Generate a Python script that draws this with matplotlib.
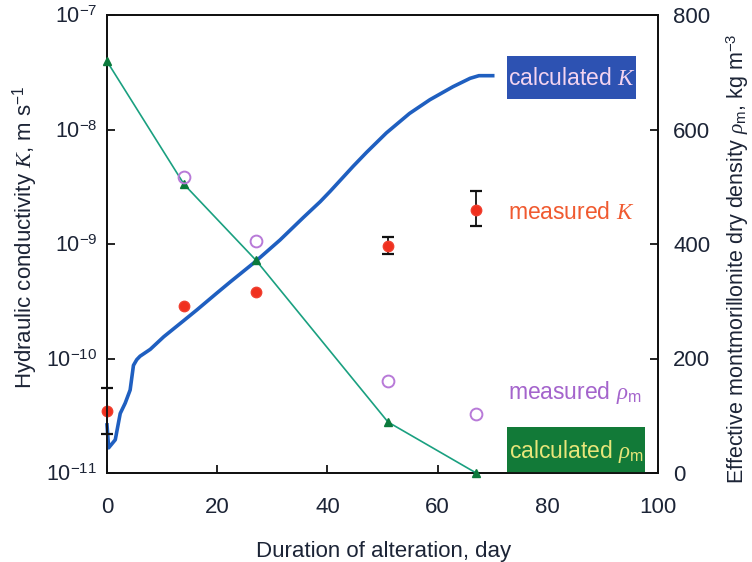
import matplotlib
matplotlib.use("Agg")
import matplotlib.pyplot as plt
from matplotlib.patches import Rectangle
import numpy as np

plt.rcParams['font.family'] = ['Liberation Sans', 'DejaVu Sans']
plt.rcParams['mathtext.fontset'] = 'custom'
plt.rcParams['mathtext.rm'] = 'Liberation Sans'
plt.rcParams['mathtext.it'] = 'Liberation Serif:italic'
plt.rcParams['mathtext.sf'] = 'Liberation Sans'

# ---- data ----
calc_K_days = [0, 0.3, 1.5, 2.4, 3.3, 4.2, 4.8, 5.4, 6.0, 7.85, 10.3, 13.9, 16.3, 19.9,
               22.4, 26.9, 31.4, 35.6, 38.7, 40.5, 44.7, 47.1, 50.7, 54.9, 58.6, 62.8,
               65.9, 67.5, 70.0]
calc_K_log10 = [-10.58, -10.78, -10.71, -10.48, -10.39, -10.275, -10.06, -10.01, -9.98,
                -9.92, -9.81, -9.67, -9.576, -9.43, -9.33, -9.155, -8.965, -8.77, -8.63,
                -8.54, -8.32, -8.20, -8.03, -7.86, -7.74, -7.626, -7.553, -7.53, -7.53]

meas_K_days = [0, 14, 27, 51, 67]
meas_K = [3.5e-11, 2.9e-10, 3.8e-10, 9.6e-10, 2.0e-9]

err_days = [0, 51, 67]
err_center = [3.5e-11, 9.6e-10, 2.0e-9]
err_upper = [5.5e-11, 1.15e-9, 2.9e-9]
err_lower = [2.2e-11, 8.1e-10, 1.44e-9]

meas_rho_days = [14, 27, 51, 67]
meas_rho = [517, 405, 161, 103]

calc_rho_days = [0, 14, 27, 51, 67]
calc_rho = [719, 504, 372, 89, 0]

x_ticks = [0, 20, 40, 60, 80, 100]
K_ticks = [1e-11, 1e-10, 1e-9, 1e-8, 1e-7]
K_tick_labels = ['10$^{-11}$', '10$^{-10}$', '10$^{-9}$', '10$^{-8}$', '10$^{-7}$']
rho_ticks = [0, 200, 400, 600, 800]

txt = '#1c2436'

fig = plt.figure(figsize=(7.52, 5.62), dpi=100)
ax = fig.add_axes([107/752, 1-473/562, (658-107)/752, (473-15)/562])
ax2 = ax.twinx()

ax.set_yscale('log')
ax.set_xlim(0, 100)
ax.set_ylim(1e-11, 1e-7)
ax2.set_ylim(0, 800)

# calculated K
ax.plot(calc_K_days, [10**v for v in calc_K_log10], color='#1f5fc0', lw=2.6,
        zorder=4, clip_on=False, solid_joinstyle='round')
# measured K with error bars
ax.errorbar(err_days, err_center,
            yerr=[np.array(err_center) - np.array(err_lower),
                  np.array(err_upper) - np.array(err_center)],
            fmt='none', ecolor='#111111', elinewidth=1.3, capsize=4, capthick=1.6,
            zorder=5, clip_on=False)
ax.plot(meas_K_days, meas_K, 'o', color='#f0301e', ms=7.5, mec='#f04030',
        zorder=6, clip_on=False)

# rho on right axis
ax2.plot(calc_rho_days, calc_rho, '-', color='#1aa080', lw=1.2, zorder=3, clip_on=False)
ax2.plot(calc_rho_days, calc_rho, '^', color='#0b7a3c', ms=5.5, zorder=4, clip_on=False)
ax2.plot(meas_rho_days, meas_rho, 'o', mfc='none', mec='#b87ad8', ms=8.5, mew=1.4,
         zorder=4, clip_on=False)

# ticks
ax.set_xticks(x_ticks)
ax.set_yticks(K_ticks)
ax.set_yticklabels(K_tick_labels)
ax.yaxis.set_minor_locator(matplotlib.ticker.NullLocator())
ax2.set_yticks(rho_ticks)
ax.tick_params(axis='x', direction='in', length=6, width=1.2, pad=17,
               labelsize=16, labelcolor=txt, top=False)
ax.tick_params(axis='y', direction='in', length=6, width=1.2, pad=7,
               labelsize=15.5, labelcolor=txt)
ax2.tick_params(axis='y', direction='in', length=6, width=1.2, pad=11,
                labelsize=16, labelcolor=txt)
for a in (ax, ax2):
    for s in a.spines.values():
        s.set_linewidth(1.3)
        s.set_color('#111111')

# axis labels
fig.text(384/752, 1-552/562, 'Duration of alteration, day', ha='center', va='center',
         fontsize=16, color=txt)
fig.text(25/752, 1-237/562, 'Hydraulic conductivity $\\mathit{K}$, m s$^{-1}$',
         rotation=90, ha='center', va='center', fontsize=16, color=txt)
fig.text(738/752, 1-484/562,
         'Effective montmorillonite dry density $\\mathit{\\rho}_{\\mathrm{m}}$, kg m$^{-3}$',
         rotation=90, ha='center', va='bottom', fontsize=15.5, color=txt)

# annotation boxes
ax.add_patch(Rectangle((0.726, 0.817), 0.234, 0.093, transform=ax.transAxes,
                       facecolor='#2d52b2', edgecolor='none', zorder=7, clip_on=False))
ax.text(0.843, 0.862, 'calculated $\\mathit{K}$', transform=ax.transAxes,
        ha='center', va='center', fontsize=16.5, color='#f4d4f0', zorder=8)
ax.add_patch(Rectangle((0.726, 0.0), 0.250, 0.100, transform=ax.transAxes,
                       facecolor='#127a38', edgecolor='none', zorder=7, clip_on=False))
ax.text(0.851, 0.048, 'calculated $\\mathit{\\rho}_{\\mathrm{m}}$', transform=ax.transAxes,
        ha='center', va='center', fontsize=16.5, color='#e8e67a', zorder=8)
ax.text(0.728, 0.568, 'measured $\\mathit{K}$', transform=ax.transAxes,
        ha='left', va='center', fontsize=16.5, color='#f05a30', zorder=8)
ax.text(0.728, 0.175, 'measured $\\mathit{\\rho}_{\\mathrm{m}}$', transform=ax.transAxes,
        ha='left', va='center', fontsize=16.5, color='#a464cc', zorder=8)

fig.savefig('out.png', dpi=100)
